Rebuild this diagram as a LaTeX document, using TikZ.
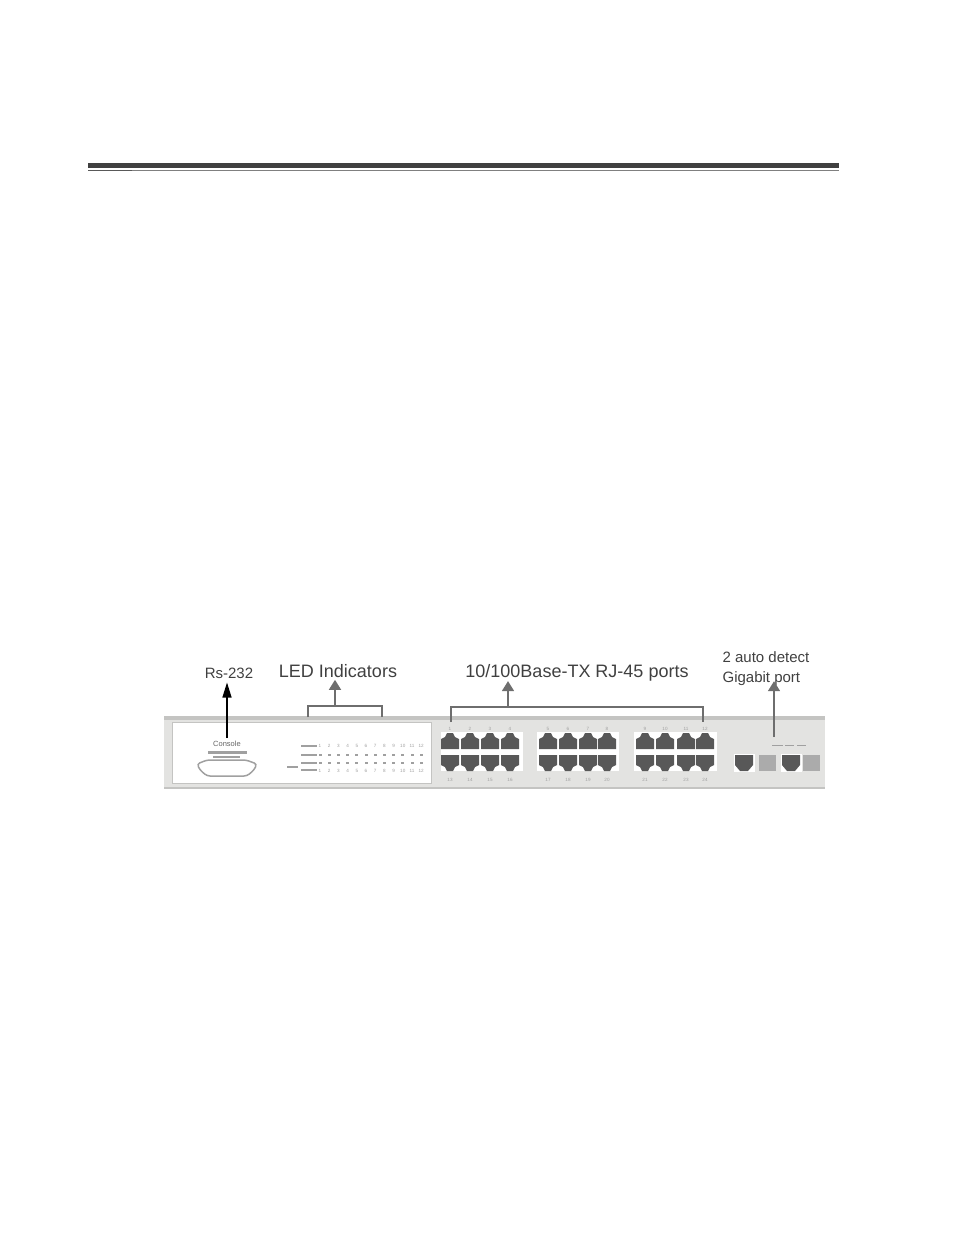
\documentclass[tikz,border=0pt]{standalone}
\usepackage{fontspec}
\usepackage{xcolor}
\usetikzlibrary{arrows.meta,positioning}
\setmainfont{Liberation Sans}
\definecolor{chassis}{HTML}{E3E3E1}
\definecolor{edgegray}{HTML}{C4C4C2}
\definecolor{portdark}{HTML}{585858}
\definecolor{arrowgray}{HTML}{6E6E6E}
\definecolor{markgray}{HTML}{A0A0A0}

\begin{document}
\begin{tikzpicture}[
    x=1pt, y=-1pt,
    callout/.style={inner sep=0pt, text=black!75, font=\fontsize{18}{20}\selectfont},
    smallcallout/.style={inner sep=0pt, text=black!75, font=\fontsize{15}{20}\selectfont},
    tinylabel/.style={inner sep=0pt, text=markgray, font=\fontsize{4.6}{5}\selectfont},
    arrow/.style={-{Triangle[length=10pt, width=12pt]}, line width=1.6pt, draw=arrowgray, fill=arrowgray},
    bracket/.style={line width=1.4pt, draw=arrowgray},
    porttop/.pic={\fill[portdark] (-9,8) -- (9,8) -- (9,-2) -- (5,-4) -- (3,-8) -- (-3,-8) -- (-5,-4) -- (-9,-2) -- cycle;}
]
    \useasboundingbox (0,0) rectangle (954,1235);

    % Rule
    \fill[black!75] (88,163) rectangle (839,168);
    \fill[black!65] (88,169.5) rectangle (132,171);
    \fill[black!50] (132,169.5) rectangle (839,170.5);

    % Chassis
    \fill[chassis] (164,716) rectangle (825,789);
    \fill[edgegray] (164,716) rectangle (825,720);
    \fill[edgegray] (164,787) rectangle (825,789);
    \draw[fill=white, draw=edgegray, line width=1pt] (172,722) rectangle (431,783);

    % Console
    \node[inner sep=0pt, text=black!60, font=\fontsize{7.5}{8}\selectfont] (console) at (227,744) {Console};
    \fill[markgray] (208,750.5) rectangle (247,753.5);
    \fill[markgray] (213,756) rectangle (240,758);
    \draw[line width=1.5pt, draw=markgray, rounded corners=3pt] (197,764) -- (207,760) -- (246,760) -- (257,764) -- (254,770) -- (247,776) -- (207,776) -- (200,770) -- cycle;

    % LEDs
    \fill[markgray] (301,745) rectangle (317,747);
    \fill[markgray] (301,754) rectangle (317,756);
    \fill[markgray] (301,762) rectangle (317,764);
    \fill[markgray] (301,769) rectangle (317,771);
    \fill[markgray] (287,766) rectangle (298,768);
    \foreach \i in {1,...,12} {
        \node[tinylabel] (ledtop\i) at ({320+(\i-1)*9.2},746) {\i};
        \fill[markgray] ({318.5+(\i-1)*9.2},754) rectangle +(3,2);
        \fill[markgray] ({318.5+(\i-1)*9.2},762) rectangle +(3,2);
        \node[tinylabel] (ledbot\i) at ({320+(\i-1)*9.2},771) {\i};
    }

    % Port blocks
    \foreach \x/\w in {441/82, 537/82, 634/83} {
        \fill[white] (\x,732) rectangle +(\w,39);
    }
    \foreach \x [count=\n] in {450,470,490,510,548,568,588,607,645,665,686,705} {
        \pic at (\x,741) {porttop};
        \pic[yscale=-1] at (\x,763) {porttop};
        \node[tinylabel] (numtop\n) at (\x,728.5) {\n};
        \pgfmathtruncatemacro{\m}{\n+12}
        \node[tinylabel] (numbot\n) at (\x,780) {\m};
    }

    % Gigabit ports
    \foreach \x/\y in {735/759, 782/803} {
        \fill[white] (\x-1.5,754) rectangle +(21,18);
        \fill[portdark] (\x,755) -- +(18,0) -- +(18,10) -- +(13,16) -- +(5,16) -- +(0,10) -- cycle;
        \fill[black!33] (\y,755) rectangle +(17,16);
    }
    \fill[markgray] (772,744.5) rectangle +(11,1.5);
    \fill[markgray] (785,744.5) rectangle +(9,1.5);
    \fill[markgray] (797,744.5) rectangle +(9,1.5);

    % Nodes
    \node[smallcallout] (rs) at (229,673) {Rs-232};
    \node[callout] (led) at (338,671) {LED Indicators};
    \node[callout] (ports) at (577,672.5) {10/100Base-TX RJ-45 ports};
    \node[smallcallout, align=left] (giga) at (766,669) {2 auto detect\\Gigabit port};
    \coordinate (rsfoot) at (227,738);
    \coordinate (ledfoot) at (335,706);
    \coordinate (portsfoot) at (508,707);
    \coordinate (gigafoot) at (774,737);
    \coordinate (ledL) at (308,717);
    \coordinate (ledR) at (382,717);
    \coordinate (portsL) at (451,722);
    \coordinate (portsR) at (703,722);

    % Arrows
    \draw[arrow, -{Triangle[length=15pt, width=9pt]}, draw=black, fill=black, line width=1.2pt] (rsfoot) -- ([yshift=-4pt]rsfoot |- rs.south);
    \draw[arrow] (ledfoot) -- ([yshift=-2pt]ledfoot |- led.south);
    \draw[arrow] (portsfoot) -- (portsfoot |- ports.south);
    \draw[arrow] (gigafoot) -- ([yshift=5pt]gigafoot |- giga.south);
    \draw[bracket] (ledL) |- (ledfoot) -| (ledR);
    \draw[bracket] (portsL) |- (portsfoot) -| (portsR);
\end{tikzpicture}
\end{document}
